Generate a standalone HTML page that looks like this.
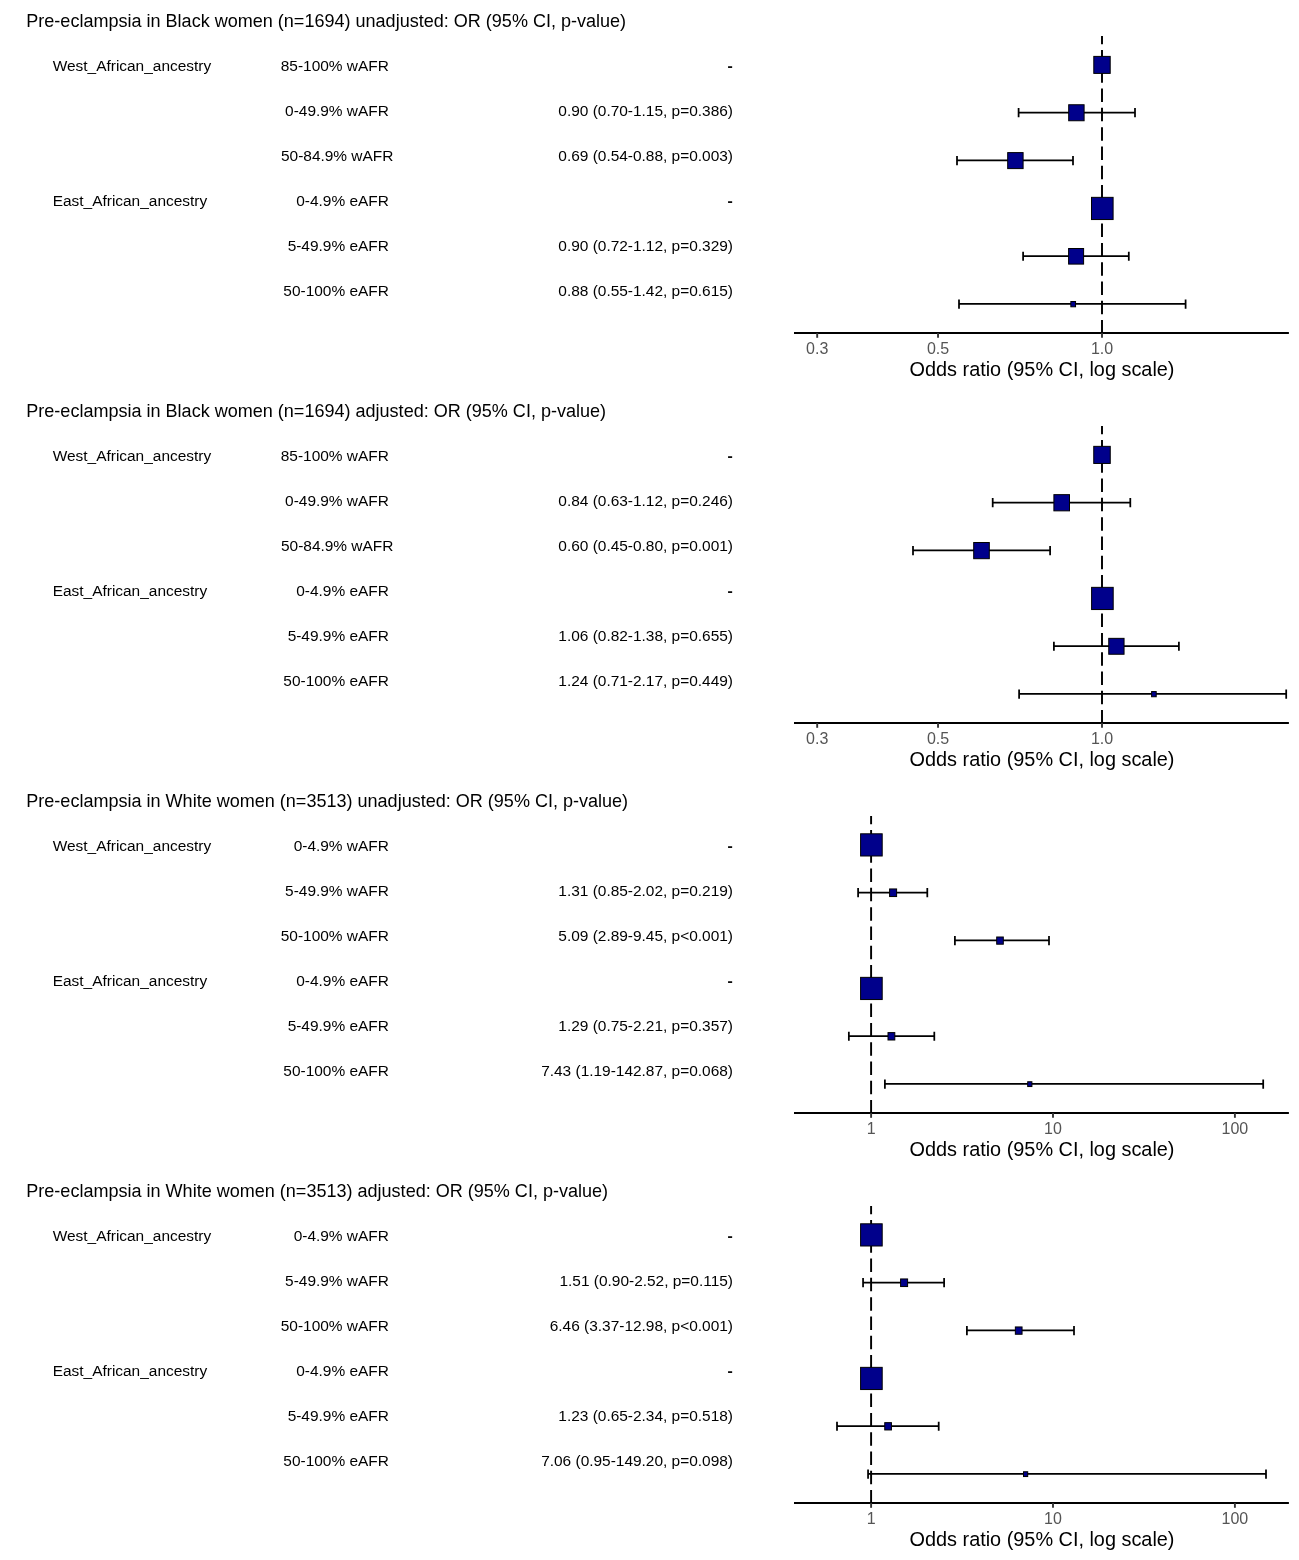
<!DOCTYPE html>
<html><head><meta charset="utf-8"><title>Forest plots</title>
<style>
html,body{margin:0;padding:0;background:#fff;}
svg{display:block}
text{font-family:"Liberation Sans",sans-serif;fill:#000}
.t{font-size:18.04px}
.l{font-size:15.44px}
.a{font-size:16px;fill:#555}
.at{font-size:19.87px}
</style></head><body>
<svg width="1299" height="1560" viewBox="0 0 1299 1560">
<rect width="1299" height="1560" fill="#fff"/>
<g transform="translate(0,0)">
<line x1="1102.00" y1="36" x2="1102.00" y2="333.5" stroke="#000" stroke-width="1.93" stroke-dasharray="13.5 5.79" stroke-dashoffset="5.3"/>
<rect x="728.05" y="66.25" width="4.1" height="1.7" fill="#000"/>
<rect x="1093.80" y="56.40" width="16.40" height="17.00" fill="#00008b" stroke="#000" stroke-width="1"/>
<path d="M1018.60 112.50H1135.00M1018.60 108.10v9.2M1135.00 108.10v9.2" stroke="#000" stroke-width="1.75" fill="none"/>
<rect x="1068.70" y="104.75" width="15.40" height="16.00" fill="#00008b" stroke="#000" stroke-width="1"/>
<path d="M957.00 160.35H1073.00M957.00 155.95v9.2M1073.00 155.95v9.2" stroke="#000" stroke-width="1.75" fill="none"/>
<rect x="1007.70" y="152.60" width="15.40" height="16.00" fill="#00008b" stroke="#000" stroke-width="1"/>
<rect x="728.05" y="201.25" width="4.1" height="1.7" fill="#000"/>
<rect x="1091.50" y="197.35" width="21.60" height="22.20" fill="#00008b" stroke="#000" stroke-width="1"/>
<path d="M1023.10 256.05H1128.80M1023.10 251.65v9.2M1128.80 251.65v9.2" stroke="#000" stroke-width="1.75" fill="none"/>
<rect x="1068.60" y="248.50" width="15.00" height="15.60" fill="#00008b" stroke="#000" stroke-width="1"/>
<path d="M959.00 303.90H1185.60M959.00 299.50v9.2M1185.60 299.50v9.2" stroke="#000" stroke-width="1.75" fill="none"/>
<rect x="1070.85" y="301.50" width="4.70" height="5.30" fill="#00008b" stroke="#000" stroke-width="1"/>
<line x1="794" y1="333" x2="1288.9" y2="333" stroke="#000" stroke-width="1.9"/>
<line x1="817.19" y1="333" x2="817.19" y2="337.8" stroke="#333" stroke-width="1.9"/>
<line x1="938.03" y1="333" x2="938.03" y2="337.8" stroke="#333" stroke-width="1.9"/>
<line x1="1102.00" y1="333" x2="1102.00" y2="337.8" stroke="#333" stroke-width="1.9"/>
</g>
<g transform="translate(0,0)" style="filter:grayscale(1)"><text class="t" x="26.3" y="27.0">Pre-eclampsia in Black women (n=1694) unadjusted: OR (95% CI, p-value)</text>
<text class="l" x="52.7" y="70.6">West_African_ancestry</text>
<text class="l" x="388.9" y="70.6" text-anchor="end">85-100% wAFR</text>
<text class="l" x="388.9" y="115.6" text-anchor="end">0-49.9% wAFR</text>
<text class="l" x="733" y="115.6" text-anchor="end">0.90 (0.70-1.15, p=0.386)</text>
<text class="l" x="281" y="160.6">50-84.9% wAFR</text>
<text class="l" x="733" y="160.6" text-anchor="end">0.69 (0.54-0.88, p=0.003)</text>
<text class="l" x="52.7" y="205.6">East_African_ancestry</text>
<text class="l" x="388.9" y="205.6" text-anchor="end">0-4.9% eAFR</text>
<text class="l" x="388.9" y="250.6" text-anchor="end">5-49.9% eAFR</text>
<text class="l" x="733" y="250.6" text-anchor="end">0.90 (0.72-1.12, p=0.329)</text>
<text class="l" x="388.9" y="295.6" text-anchor="end">50-100% eAFR</text>
<text class="l" x="733" y="295.6" text-anchor="end">0.88 (0.55-1.42, p=0.615)</text>
<text class="a" x="817.19" y="354.1" text-anchor="middle">0.3</text>
<text class="a" x="938.03" y="354.1" text-anchor="middle">0.5</text>
<text class="a" x="1102.00" y="354.1" text-anchor="middle">1.0</text>
<text class="at" x="1042" y="375.9" text-anchor="middle">Odds ratio (95% CI, log scale)</text></g>
<g transform="translate(0,390)">
<line x1="1102.00" y1="36" x2="1102.00" y2="333.5" stroke="#000" stroke-width="1.93" stroke-dasharray="13.5 5.79" stroke-dashoffset="5.3"/>
<rect x="728.05" y="66.25" width="4.1" height="1.7" fill="#000"/>
<rect x="1093.75" y="56.35" width="16.50" height="17.10" fill="#00008b" stroke="#000" stroke-width="1"/>
<path d="M992.70 112.50H1130.30M992.70 108.10v9.2M1130.30 108.10v9.2" stroke="#000" stroke-width="1.75" fill="none"/>
<rect x="1053.90" y="104.65" width="15.60" height="16.20" fill="#00008b" stroke="#000" stroke-width="1"/>
<path d="M913.00 160.35H1050.10M913.00 155.95v9.2M1050.10 155.95v9.2" stroke="#000" stroke-width="1.75" fill="none"/>
<rect x="973.70" y="152.50" width="15.60" height="16.20" fill="#00008b" stroke="#000" stroke-width="1"/>
<rect x="728.05" y="201.25" width="4.1" height="1.7" fill="#000"/>
<rect x="1091.60" y="197.35" width="21.60" height="22.20" fill="#00008b" stroke="#000" stroke-width="1"/>
<path d="M1053.90 256.05H1178.90M1053.90 251.65v9.2M1178.90 251.65v9.2" stroke="#000" stroke-width="1.75" fill="none"/>
<rect x="1108.75" y="248.35" width="15.30" height="15.90" fill="#00008b" stroke="#000" stroke-width="1"/>
<path d="M1019.10 303.90H1286.20M1019.10 299.50v9.2M1286.20 299.50v9.2" stroke="#000" stroke-width="1.75" fill="none"/>
<rect x="1151.60" y="301.55" width="4.60" height="5.20" fill="#00008b" stroke="#000" stroke-width="1"/>
<line x1="794" y1="333" x2="1288.9" y2="333" stroke="#000" stroke-width="1.9"/>
<line x1="817.19" y1="333" x2="817.19" y2="337.8" stroke="#333" stroke-width="1.9"/>
<line x1="938.03" y1="333" x2="938.03" y2="337.8" stroke="#333" stroke-width="1.9"/>
<line x1="1102.00" y1="333" x2="1102.00" y2="337.8" stroke="#333" stroke-width="1.9"/>
</g>
<g transform="translate(0,390)" style="filter:grayscale(1)"><text class="t" x="26.3" y="27.0">Pre-eclampsia in Black women (n=1694) adjusted: OR (95% CI, p-value)</text>
<text class="l" x="52.7" y="70.6">West_African_ancestry</text>
<text class="l" x="388.9" y="70.6" text-anchor="end">85-100% wAFR</text>
<text class="l" x="388.9" y="115.6" text-anchor="end">0-49.9% wAFR</text>
<text class="l" x="733" y="115.6" text-anchor="end">0.84 (0.63-1.12, p=0.246)</text>
<text class="l" x="281" y="160.6">50-84.9% wAFR</text>
<text class="l" x="733" y="160.6" text-anchor="end">0.60 (0.45-0.80, p=0.001)</text>
<text class="l" x="52.7" y="205.6">East_African_ancestry</text>
<text class="l" x="388.9" y="205.6" text-anchor="end">0-4.9% eAFR</text>
<text class="l" x="388.9" y="250.6" text-anchor="end">5-49.9% eAFR</text>
<text class="l" x="733" y="250.6" text-anchor="end">1.06 (0.82-1.38, p=0.655)</text>
<text class="l" x="388.9" y="295.6" text-anchor="end">50-100% eAFR</text>
<text class="l" x="733" y="295.6" text-anchor="end">1.24 (0.71-2.17, p=0.449)</text>
<text class="a" x="817.19" y="354.1" text-anchor="middle">0.3</text>
<text class="a" x="938.03" y="354.1" text-anchor="middle">0.5</text>
<text class="a" x="1102.00" y="354.1" text-anchor="middle">1.0</text>
<text class="at" x="1042" y="375.9" text-anchor="middle">Odds ratio (95% CI, log scale)</text></g>
<g transform="translate(0,780)">
<line x1="871.10" y1="36" x2="871.10" y2="333.5" stroke="#000" stroke-width="1.93" stroke-dasharray="13.5 5.79" stroke-dashoffset="5.3"/>
<rect x="728.05" y="66.25" width="4.1" height="1.7" fill="#000"/>
<rect x="860.60" y="53.80" width="21.60" height="22.20" fill="#00008b" stroke="#000" stroke-width="1"/>
<path d="M858.10 112.50H927.30M858.10 108.10v9.2M927.30 108.10v9.2" stroke="#000" stroke-width="1.75" fill="none"/>
<rect x="889.60" y="108.95" width="7.00" height="7.60" fill="#00008b" stroke="#000" stroke-width="1"/>
<path d="M954.90 160.35H1049.00M954.90 155.95v9.2M1049.00 155.95v9.2" stroke="#000" stroke-width="1.75" fill="none"/>
<rect x="996.70" y="157.00" width="6.60" height="7.20" fill="#00008b" stroke="#000" stroke-width="1"/>
<rect x="728.05" y="201.25" width="4.1" height="1.7" fill="#000"/>
<rect x="860.60" y="197.35" width="21.60" height="22.20" fill="#00008b" stroke="#000" stroke-width="1"/>
<path d="M848.85 256.05H934.30M848.85 251.65v9.2M934.30 251.65v9.2" stroke="#000" stroke-width="1.75" fill="none"/>
<rect x="888.00" y="252.60" width="6.80" height="7.40" fill="#00008b" stroke="#000" stroke-width="1"/>
<path d="M884.90 303.90H1263.20M884.90 299.50v9.2M1263.20 299.50v9.2" stroke="#000" stroke-width="1.75" fill="none"/>
<rect x="1027.70" y="301.75" width="4.20" height="4.80" fill="#00008b" stroke="#000" stroke-width="1"/>
<line x1="794" y1="333" x2="1288.9" y2="333" stroke="#000" stroke-width="1.9"/>
<line x1="871.10" y1="333" x2="871.10" y2="337.8" stroke="#333" stroke-width="1.9"/>
<line x1="1053.00" y1="333" x2="1053.00" y2="337.8" stroke="#333" stroke-width="1.9"/>
<line x1="1234.90" y1="333" x2="1234.90" y2="337.8" stroke="#333" stroke-width="1.9"/>
</g>
<g transform="translate(0,780)" style="filter:grayscale(1)"><text class="t" x="26.3" y="27.0">Pre-eclampsia in White women (n=3513) unadjusted: OR (95% CI, p-value)</text>
<text class="l" x="52.7" y="70.6">West_African_ancestry</text>
<text class="l" x="388.9" y="70.6" text-anchor="end">0-4.9% wAFR</text>
<text class="l" x="388.9" y="115.6" text-anchor="end">5-49.9% wAFR</text>
<text class="l" x="733" y="115.6" text-anchor="end">1.31 (0.85-2.02, p=0.219)</text>
<text class="l" x="388.9" y="160.6" text-anchor="end">50-100% wAFR</text>
<text class="l" x="733" y="160.6" text-anchor="end">5.09 (2.89-9.45, p&lt;0.001)</text>
<text class="l" x="52.7" y="205.6">East_African_ancestry</text>
<text class="l" x="388.9" y="205.6" text-anchor="end">0-4.9% eAFR</text>
<text class="l" x="388.9" y="250.6" text-anchor="end">5-49.9% eAFR</text>
<text class="l" x="733" y="250.6" text-anchor="end">1.29 (0.75-2.21, p=0.357)</text>
<text class="l" x="388.9" y="295.6" text-anchor="end">50-100% eAFR</text>
<text class="l" x="733" y="295.6" text-anchor="end">7.43 (1.19-142.87, p=0.068)</text>
<text class="a" x="871.10" y="354.1" text-anchor="middle">1</text>
<text class="a" x="1053.00" y="354.1" text-anchor="middle">10</text>
<text class="a" x="1234.90" y="354.1" text-anchor="middle">100</text>
<text class="at" x="1042" y="375.9" text-anchor="middle">Odds ratio (95% CI, log scale)</text></g>
<g transform="translate(0,1170)">
<line x1="871.10" y1="36" x2="871.10" y2="333.5" stroke="#000" stroke-width="1.93" stroke-dasharray="13.5 5.79" stroke-dashoffset="5.3"/>
<rect x="728.05" y="66.25" width="4.1" height="1.7" fill="#000"/>
<rect x="860.60" y="53.80" width="21.60" height="22.20" fill="#00008b" stroke="#000" stroke-width="1"/>
<path d="M863.06 112.50H944.10M863.06 108.10v9.2M944.10 108.10v9.2" stroke="#000" stroke-width="1.75" fill="none"/>
<rect x="900.60" y="108.95" width="7.00" height="7.60" fill="#00008b" stroke="#000" stroke-width="1"/>
<path d="M966.90 160.35H1074.00M966.90 155.95v9.2M1074.00 155.95v9.2" stroke="#000" stroke-width="1.75" fill="none"/>
<rect x="1015.35" y="156.95" width="6.70" height="7.30" fill="#00008b" stroke="#000" stroke-width="1"/>
<rect x="728.05" y="201.25" width="4.1" height="1.7" fill="#000"/>
<rect x="860.60" y="197.35" width="21.60" height="22.20" fill="#00008b" stroke="#000" stroke-width="1"/>
<path d="M837.00 256.05H938.70M837.00 251.65v9.2M938.70 251.65v9.2" stroke="#000" stroke-width="1.75" fill="none"/>
<rect x="884.75" y="252.65" width="6.70" height="7.30" fill="#00008b" stroke="#000" stroke-width="1"/>
<path d="M868.06 303.90H1266.00M868.06 299.50v9.2M1266.00 299.50v9.2" stroke="#000" stroke-width="1.75" fill="none"/>
<rect x="1023.50" y="301.75" width="4.20" height="4.80" fill="#00008b" stroke="#000" stroke-width="1"/>
<line x1="794" y1="333" x2="1288.9" y2="333" stroke="#000" stroke-width="1.9"/>
<line x1="871.10" y1="333" x2="871.10" y2="337.8" stroke="#333" stroke-width="1.9"/>
<line x1="1053.00" y1="333" x2="1053.00" y2="337.8" stroke="#333" stroke-width="1.9"/>
<line x1="1234.90" y1="333" x2="1234.90" y2="337.8" stroke="#333" stroke-width="1.9"/>
</g>
<g transform="translate(0,1170)" style="filter:grayscale(1)"><text class="t" x="26.3" y="27.0">Pre-eclampsia in White women (n=3513) adjusted: OR (95% CI, p-value)</text>
<text class="l" x="52.7" y="70.6">West_African_ancestry</text>
<text class="l" x="388.9" y="70.6" text-anchor="end">0-4.9% wAFR</text>
<text class="l" x="388.9" y="115.6" text-anchor="end">5-49.9% wAFR</text>
<text class="l" x="733" y="115.6" text-anchor="end">1.51 (0.90-2.52, p=0.115)</text>
<text class="l" x="388.9" y="160.6" text-anchor="end">50-100% wAFR</text>
<text class="l" x="733" y="160.6" text-anchor="end">6.46 (3.37-12.98, p&lt;0.001)</text>
<text class="l" x="52.7" y="205.6">East_African_ancestry</text>
<text class="l" x="388.9" y="205.6" text-anchor="end">0-4.9% eAFR</text>
<text class="l" x="388.9" y="250.6" text-anchor="end">5-49.9% eAFR</text>
<text class="l" x="733" y="250.6" text-anchor="end">1.23 (0.65-2.34, p=0.518)</text>
<text class="l" x="388.9" y="295.6" text-anchor="end">50-100% eAFR</text>
<text class="l" x="733" y="295.6" text-anchor="end">7.06 (0.95-149.20, p=0.098)</text>
<text class="a" x="871.10" y="354.1" text-anchor="middle">1</text>
<text class="a" x="1053.00" y="354.1" text-anchor="middle">10</text>
<text class="a" x="1234.90" y="354.1" text-anchor="middle">100</text>
<text class="at" x="1042" y="375.9" text-anchor="middle">Odds ratio (95% CI, log scale)</text></g>
</svg></body></html>
